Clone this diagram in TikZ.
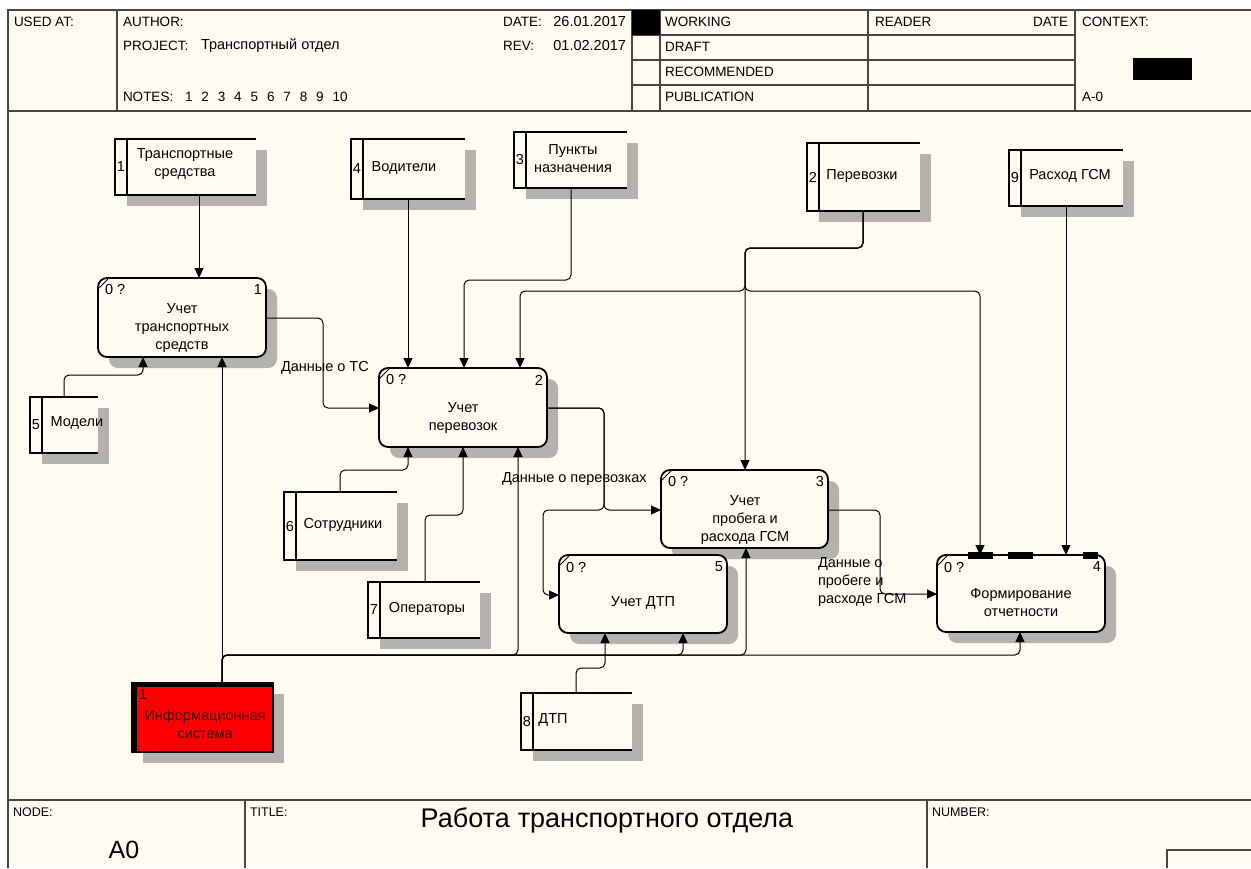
\documentclass[tikz,border=0pt]{standalone}
\usepackage{fontspec}
\setmainfont{Liberation Sans}
\usetikzlibrary{arrows.meta,calc}
\definecolor{paper}{RGB}{255,251,240}
\definecolor{shadowgray}{RGB}{180,178,172}
\definecolor{frameclr}{RGB}{70,70,70}
\definecolor{isred}{RGB}{255,0,0}
\definecolor{istext}{RGB}{70,0,0}

\tikzset{
  every node/.style={font=\fontsize{14.5}{18}\selectfont, inner sep=0pt, outer sep=0pt},
  hdr/.style={font=\fontsize{13.5}{16}\selectfont},
  conn/.style={draw=black, line width=1pt, rounded corners=5pt},
  arr/.style={conn, -{Triangle[length=10pt,width=9pt]}},
  actbox/.style={draw=black, line width=1.8pt, rounded corners=9pt, fill=paper},
  entbox/.style={fill=paper},
  small/.style={font=\fontsize{12.5}{14}\selectfont},
}

% external reference box: name, x, y, w, h, number, text centre, text
\newcommand\extref[8]{%
  \fill[shadowgray] (#2+12,#3+11) rectangle (#2+#4+11,#3+#5+11);
  \node[entbox, minimum width=#4pt, minimum height=#5pt, anchor=north west] (#1) at (#2,#3) {};
  \draw[line width=1.8pt] (#1.north east) -- (#1.north west) -- (#1.south west) -- (#1.south east);
  \draw[line width=1.8pt] ([xshift=12pt]#1.north west) -- ([xshift=12pt]#1.south west);
  \node (#1n) at ([xshift=6pt]#1.west) {#6};
  \node[align=center] (#1t) at #7 {#8};
}

% activity box: name, x, y, w, h, number, text centre, text
\newcommand\activity[8]{%
  \fill[shadowgray, rounded corners=9pt] (#2+11,#3+11) rectangle (#2+#4+11,#3+#5+11);
  \node[actbox, minimum width=#4pt, minimum height=#5pt, anchor=north west] (#1) at (#2,#3) {};
  \draw[line width=0.8pt] ([shift={(1pt,-10pt)}]#1.north west) -- ([shift={(10pt,-1pt)}]#1.north west);
  \node[anchor=west] (#1q) at ([shift={(7pt,-12pt)}]#1.north west) {0 ?};
  \node[anchor=east] (#1n) at ([shift={(-4pt,-12pt)}]#1.north east) {#6};
  \node[align=center] (#1t) at #7 {#8};
}

\begin{document}
\begin{tikzpicture}[x=1pt,y=-1pt]
\useasboundingbox (0,0) rectangle (1251,868);
\fill[white] (0,0) rectangle (1251,868);
\fill[paper] (8,10) rectangle (1251,868);

% ---- form frame ----
\begin{scope}[draw=frameclr, line width=1.6pt]
  \draw (1251,10) -- (8,10) -- (8,868);
  \draw (8,111) -- (1251,111);
  \draw (8,800) -- (1251,800);
  \foreach \x in {117,632,660,868,1075} \draw (\x,10) -- (\x,111);
  \foreach \y in {35,60,85} \draw (632,\y) -- (1075,\y);
  \draw (245,800) -- (245,868);
  \draw (927,800) -- (927,868);
  \draw (1251,850) -- (1167,850) -- (1167,868);
\end{scope}
\fill (632,10) rectangle (660,35);
\fill (1133,58) rectangle (1192,80);

% ---- header texts ----
\node[hdr, anchor=west] (hused) at (14,22) {USED AT:};
\node[hdr, anchor=west] (hauthor) at (123,22) {AUTHOR:};
\node[hdr, anchor=west] (hproj) at (123,46) {PROJECT:};
\node[anchor=west] (hprojname) at (201,46) {Транспортный отдел};
\node[hdr, anchor=west] (hnotes) at (123,97) {NOTES:};
\foreach \i in {1,...,10} \node[hdr, anchor=west] (hn\i) at (185+16.4*\i-16.4,97) {\i};
\node[hdr, anchor=west] (hdate) at (503,22) {DATE:};
\node[anchor=east] (hdatev) at (626,22) {26.01.2017};
\node[hdr, anchor=west] (hrev) at (503,46) {REV:};
\node[anchor=east] (hrevv) at (626,46) {01.02.2017};
\node[hdr, anchor=west] (hwork) at (665,22) {WORKING};
\node[hdr, anchor=west] (hdraft) at (665,47) {DRAFT};
\node[hdr, anchor=west] (hrec) at (665,72) {RECOMMENDED};
\node[hdr, anchor=west] (hpub) at (665,97) {PUBLICATION};
\node[hdr, anchor=west] (hreader) at (875,22) {READER};
\node[hdr, anchor=east] (hrdate) at (1068,22) {DATE};
\node[hdr, anchor=west] (hctx) at (1082,22) {CONTEXT:};
\node[hdr, anchor=west] (hctxid) at (1082,97) {A-0};

% ---- footer texts ----
\node[anchor=west, small] (fnode) at (13,812) {NODE:};
\node[anchor=west, small] (ftitle) at (250,812) {TITLE:};
\node[anchor=west, small] (fnum) at (932,812) {NUMBER:};
\node[font=\fontsize{25}{25}\selectfont] (fa0) at (124,850) {A0};
\node[font=\fontsize{27}{27}\selectfont] (fname) at (607,820) {Работа\hspace{8pt}транспортного отдела};

% ---- external references ----
\extref{b1}{115}{139}{141}{56}{1}{(185,164)}{Транспортные\\средства}
\extref{b4}{351}{139}{114}{60}{4}{(404,168)}{Водители}
\extref{b3}{514}{132}{113}{56}{3}{(573,159)}{Пункты\\назначения}
\extref{b2}{807}{143}{113}{68}{2}{(862,176)}{Перевозки}
\extref{b9}{1009}{150}{114}{56}{9}{(1070,176)}{Расход ГСМ}
\extref{b5}{30}{397}{68}{56}{5}{(77,423)}{Модели}
\extref{b6}{284}{492}{113}{68}{6}{(343,525)}{Сотрудники}
\extref{b7}{368}{582}{112}{56}{7}{(427,609)}{Операторы}
\extref{b8}{521}{693}{111}{57}{8}{(553,720)}{ДТП}

% ---- information system (red) ----
\fill[shadowgray] (143,694) rectangle (284,763);
\node[fill=isred, draw=black, line width=1.6pt, minimum width=141pt, minimum height=69pt, anchor=north west] (is) at (132,683) {};
\fill (132,682) rectangle (137,752);
\fill (132,682) rectangle (273,687);
\node[anchor=west] (isn) at (139,695) {1};
\node[align=center, text=istext] (ist) at (205,724) {Информационная\\система};

% ---- activities ----
\activity{a1}{98}{278}{168}{79}{1}{(182,328)}{Учет\\транспортных\\средств}
\activity{a2}{379}{368}{168}{79}{2}{(463,418)}{Учет\\перевозок}
\activity{a3}{661}{470}{167}{78}{3}{(745,520)}{Учет\\пробега и\\расхода ГСМ}
\activity{a5}{559}{555}{168}{78}{5}{(643,603)}{Учет ДТП}
\activity{a4}{937}{555}{168}{77}{4}{(1021,603)}{Формирование\\отчетности}
% heavy marks on the top edge of box 4
\draw[line width=2.6pt] (947,555) -- (1098,555);
\fill (968,552) rectangle (993,559);
\fill (1008,552) rectangle (1033,559);
\fill (1083,552) rectangle (1098,559);

% ---- connectors ----
\draw[arr] (b1.south -| 199,0) -- (a1.north -| 199,0);
\draw[arr] (b4.south -| 408,0) -- (a2.north -| 408,0);
\draw[arr] (b3.south -| 571,0) -- (571,280) -- (464,280) -- (a2.north -| 464,0);
\draw[arr] (b2.south -| 863,0) -- (863,248) -- (745,248) -- (a3.north -| 745,0);
\draw[arr] (b2.south -| 863,0) -- (863,248) -- (745,248) -- (745,291) -- (520,291) -- (a2.north -| 520,0);
\draw[arr] (b2.south -| 863,0) -- (863,248) -- (745,248) -- (745,291) -- (980,291) -- (a4.north -| 980,0);
\draw[arr] (b9.south -| 1066,0) -- (a4.north -| 1066,0);
\draw[arr] (b5.north -| 64,0) -- (64,375) -- (143,375) -- (a1.south -| 143,0);
\draw[arr] (a1.east |- 0,318) -- (323,318) -- (323,408) -- (a2.west |- 0,408);
\draw[arr] (b6.north -| 340,0) -- (340,470) -- (408,470) -- (a2.south -| 408,0);
\draw[arr] (b7.north -| 425,0) -- (425,515) -- (463,515) -- (a2.south -| 463,0);
\draw[arr] (a2.east |- 0,408) -- (604,408) -- (604,510) -- (a3.west |- 0,510);
\draw[arr] (a2.east |- 0,408) -- (604,408) -- (604,510) -- (543,510) -- (543,595) -- (a5.west |- 0,595);
\draw[arr] (a3.east |- 0,510) -- (880,510) -- (880,594) -- (a4.west |- 0,594);
\draw[arr] (b8.north -| 576,0) -- (576,668) -- (605,668) -- (a5.south -| 605,0);
\draw[arr] (is.north -| 222,0) -- (a1.south -| 222,0);
\draw[arr] (is.north -| 222,0) -- (222,655) -- (518,655) -- (a2.south -| 518,0);
\draw[arr] (is.north -| 222,0) -- (222,655) -- (683,655) -- (a5.south -| 683,0);
\draw[arr] (is.north -| 222,0) -- (222,655) -- (746,655) -- (a3.south -| 746,0);
\draw[arr] (is.north -| 222,0) -- (222,655) -- (1020,655) -- (a4.south -| 1020,0);

% ---- arrow labels ----
\node[anchor=west] (l1) at (281,368) {Данные о ТС};
\node[anchor=west] (l2) at (502,479) {Данные о перевозках};
\node[anchor=north west, align=left] (l3) at (818,558) {Данные о\\пробеге и\\расходе ГСМ};
\end{tikzpicture}
\end{document}
